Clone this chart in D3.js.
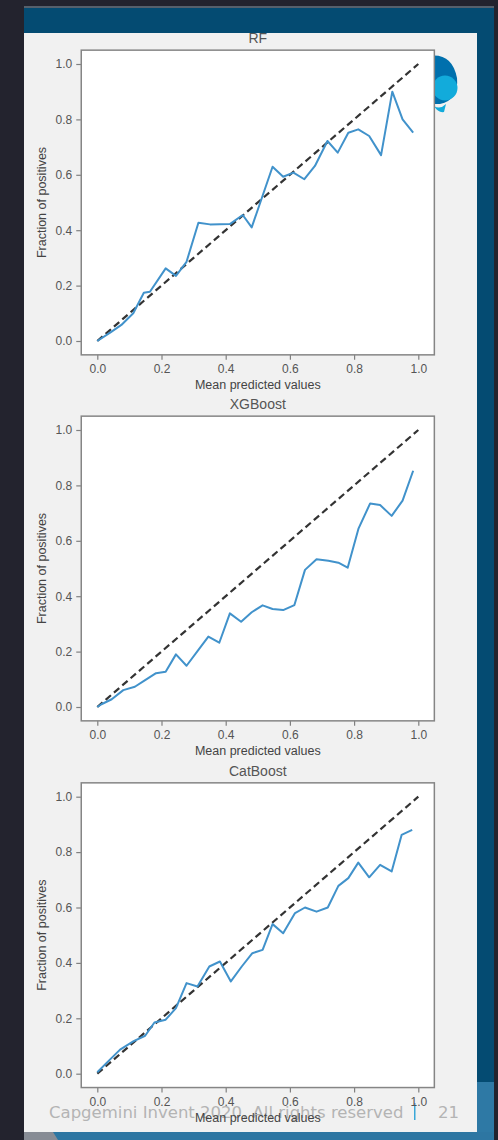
<!DOCTYPE html>
<html>
<head>
<meta charset="utf-8">
<script src="https://cdn.jsdelivr.net/npm/d3@7"></script>
<style>
  body { margin: 0; background: #23232e; }
  svg { display: block; }
  text { font-family: "Liberation Sans", Arial, sans-serif; }
</style>
</head>
<body>
<div id="frame"></div>
<script>
const width = 498;
const height = 1140;

// chart data
const titles = ['RF', 'XGBoost', 'CatBoost'];
const tickValues = [0, 0.2, 0.4, 0.6, 0.8, 1.0];

const rfX = [0, 0.04, 0.075, 0.112, 0.145, 0.164, 0.213, 0.245, 0.278, 0.315, 0.351, 0.413, 0.453, 0.481, 0.546, 0.579, 0.611, 0.645, 0.678, 0.717, 0.749, 0.782, 0.813, 0.847, 0.884, 0.919, 0.951, 0.984];
const rfY = [0, 0.03, 0.058, 0.10, 0.174, 0.178, 0.262, 0.235, 0.286, 0.427, 0.421, 0.422, 0.455, 0.41, 0.629, 0.593, 0.608, 0.584, 0.632, 0.722, 0.68, 0.752, 0.764, 0.74, 0.671, 0.90, 0.80, 0.752];

const xgbX = [0, 0.013, 0.045, 0.081, 0.117, 0.149, 0.183, 0.213, 0.245, 0.278, 0.315, 0.346, 0.38, 0.413, 0.448, 0.481, 0.515, 0.546, 0.579, 0.614, 0.647, 0.683, 0.72, 0.751, 0.78, 0.814, 0.85, 0.881, 0.917, 0.951, 0.984];
const xgbY = [0, 0.01, 0.028, 0.061, 0.073, 0.097, 0.122, 0.127, 0.19, 0.149, 0.206, 0.254, 0.232, 0.338, 0.308, 0.342, 0.367, 0.354, 0.35, 0.368, 0.495, 0.533, 0.528, 0.521, 0.503, 0.645, 0.735, 0.729, 0.69, 0.745, 0.853];

const catX = [0, 0.029, 0.071, 0.112, 0.149, 0.178, 0.213, 0.245, 0.278, 0.312, 0.349, 0.382, 0.416, 0.45, 0.483, 0.515, 0.546, 0.579, 0.616, 0.647, 0.683, 0.718, 0.751, 0.782, 0.813, 0.847, 0.881, 0.917, 0.948, 0.981];
const catY = [0.005, 0.039, 0.087, 0.117, 0.137, 0.185, 0.195, 0.237, 0.327, 0.315, 0.387, 0.405, 0.333, 0.387, 0.435, 0.447, 0.54, 0.507, 0.58, 0.6, 0.585, 0.6, 0.678, 0.706, 0.762, 0.709, 0.754, 0.73, 0.862, 0.88];

const perfect = [0, 1];

const svg = d3.select('#frame')
    .append('svg')
    .attr('width', width)
    .attr('height', height);

// slide background
svg.append('rect').attr('x', 0).attr('y', 0).attr('width', width).attr('height', height).attr('fill', '#23232e');
svg.append('rect').attr('x', 24).attr('y', 6).attr('width', 470).attr('height', 2).attr('fill', '#56606c');
svg.append('rect').attr('x', 24).attr('y', 8).attr('width', 470).attr('height', 1124).attr('fill', '#044b72');
svg.append('rect').attr('x', 477).attr('y', 1082).attr('width', 17).attr('height', 50).attr('fill', '#2e79a5');
svg.append('rect').attr('x', 24).attr('y', 33).attr('width', 453).attr('height', 1099).attr('fill', '#f1f1f1');
// bottom strip
svg.append('rect').attr('x', 24).attr('y', 1132).attr('width', 470).attr('height', 8).attr('fill', '#2d76a2');
svg.append('path').attr('d', 'M24,1132 L53,1132 L58,1140 L24,1140 Z').attr('fill', '#878c95');

// logo (partly hidden by the first axes)
svg.append('path')
    .attr('d', 'M428,56 Q452,52 457,78 Q459,100 440,104 L428,104 Z')
    .attr('fill', '#0070ad');
svg.append('circle').attr('cx', 445).attr('cy', 88).attr('r', 12.5).attr('fill', '#12abdb');
svg.append('path').attr('d', 'M434,106 Q440,110 446,104 L444,112 Q438,113 434,106 Z').attr('fill', '#12abdb');

// footer
const footerFont = '"DejaVu Sans", Verdana, sans-serif';
svg.append('text').attr('x', 49).attr('y', 1118).attr('fill', '#b4b4b4')
    .attr('font-size', 16.5)
    .style('font-family', footerFont)
    .text('Capgemini Invent 2020. All rights reserved');
svg.append('rect').attr('x', 414).attr('y', 1103).attr('width', 1.5).attr('height', 17).attr('fill', '#3aa7d8');
svg.append('text').attr('x', 438).attr('y', 1118).attr('fill', '#b4b4b4')
    .attr('font-size', 16.5)
    .style('font-family', footerFont)
    .text('21');

const axLeft = 81.25, axWidth = 353.1, axHeight = 304.7;
const tops = [50.15, 416.15, 782.85];

const x = d3.scaleLinear().domain([-0.05, 1.05]).range([0, axWidth]);
const y = d3.scaleLinear().domain([-0.05, 1.05]).range([axHeight, 0]);

function drawPanel(top, title, xs, ys) {
    const g = svg.append('g').attr('transform', `translate(${axLeft},${top})`);

    g.append('rect')
        .attr('width', axWidth)
        .attr('height', axHeight)
        .attr('fill', 'white');

    const line = d3.line().x(d => x(d[0])).y(d => y(d[1]));

    g.append('path')
        .datum(perfect.map(v => [v, v]))
        .attr('d', line)
        .attr('fill', 'none')
        .attr('stroke', '#333')
        .attr('stroke-width', 2.2)
        .attr('stroke-dasharray', '7,4');

    g.append('path')
        .datum(xs.map((v, i) => [v, ys[i]]))
        .attr('d', line)
        .attr('fill', 'none')
        .attr('stroke', '#4192cb')
        .attr('stroke-width', 2)
        .attr('stroke-linejoin', 'round');

    const xAxis = g.append('g')
        .attr('transform', `translate(0,${axHeight})`)
        .call(d3.axisBottom(x).tickValues(tickValues).tickFormat(d3.format('.1f')).tickSize(5).tickPadding(4.5).tickSizeOuter(0));
    const yAxis = g.append('g')
        .call(d3.axisLeft(y).tickValues(tickValues).tickFormat(d3.format('.1f')).tickSize(5).tickPadding(4).tickSizeOuter(0));

    [xAxis, yAxis].forEach(a => {
        a.select('.domain').remove();
        a.selectAll('line').attr('stroke', '#808080').attr('stroke-width', 1.2);
        a.selectAll('text')
            .attr('fill', '#555')
            .attr('font-size', 12)
            .style('font-family', '"Liberation Sans", Arial, sans-serif');
    });

    // spines
    g.append('rect')
        .attr('width', axWidth)
        .attr('height', axHeight)
        .attr('fill', 'none')
        .attr('stroke', '#858585')
        .attr('stroke-width', 1.5);

    g.append('text')
        .attr('x', axWidth / 2)
        .attr('y', -7)
        .attr('text-anchor', 'middle')
        .attr('font-size', 14)
        .attr('fill', '#555')
        .text(title);

    g.append('text')
        .attr('x', axWidth / 2)
        .attr('y', axHeight + 34.5)
        .attr('text-anchor', 'middle')
        .attr('font-size', 12.5)
        .attr('fill', '#444')
        .text('Mean predicted values');

    g.append('text')
        .attr('transform', `translate(${41 - axLeft + 4.5},${axHeight / 2}) rotate(-90)`)
        .attr('text-anchor', 'middle')
        .attr('font-size', 12.5)
        .attr('fill', '#444')
        .text('Fraction of positives');
}

drawPanel(tops[0], titles[0], rfX, rfY);
drawPanel(tops[1], titles[1], xgbX, xgbY);
drawPanel(tops[2], titles[2], catX, catY);

// top blue band sits over the first title
svg.append('rect').attr('x', 24).attr('y', 8).attr('width', 470).attr('height', 25).attr('fill', '#044b72');
</script>
</body>
</html>
